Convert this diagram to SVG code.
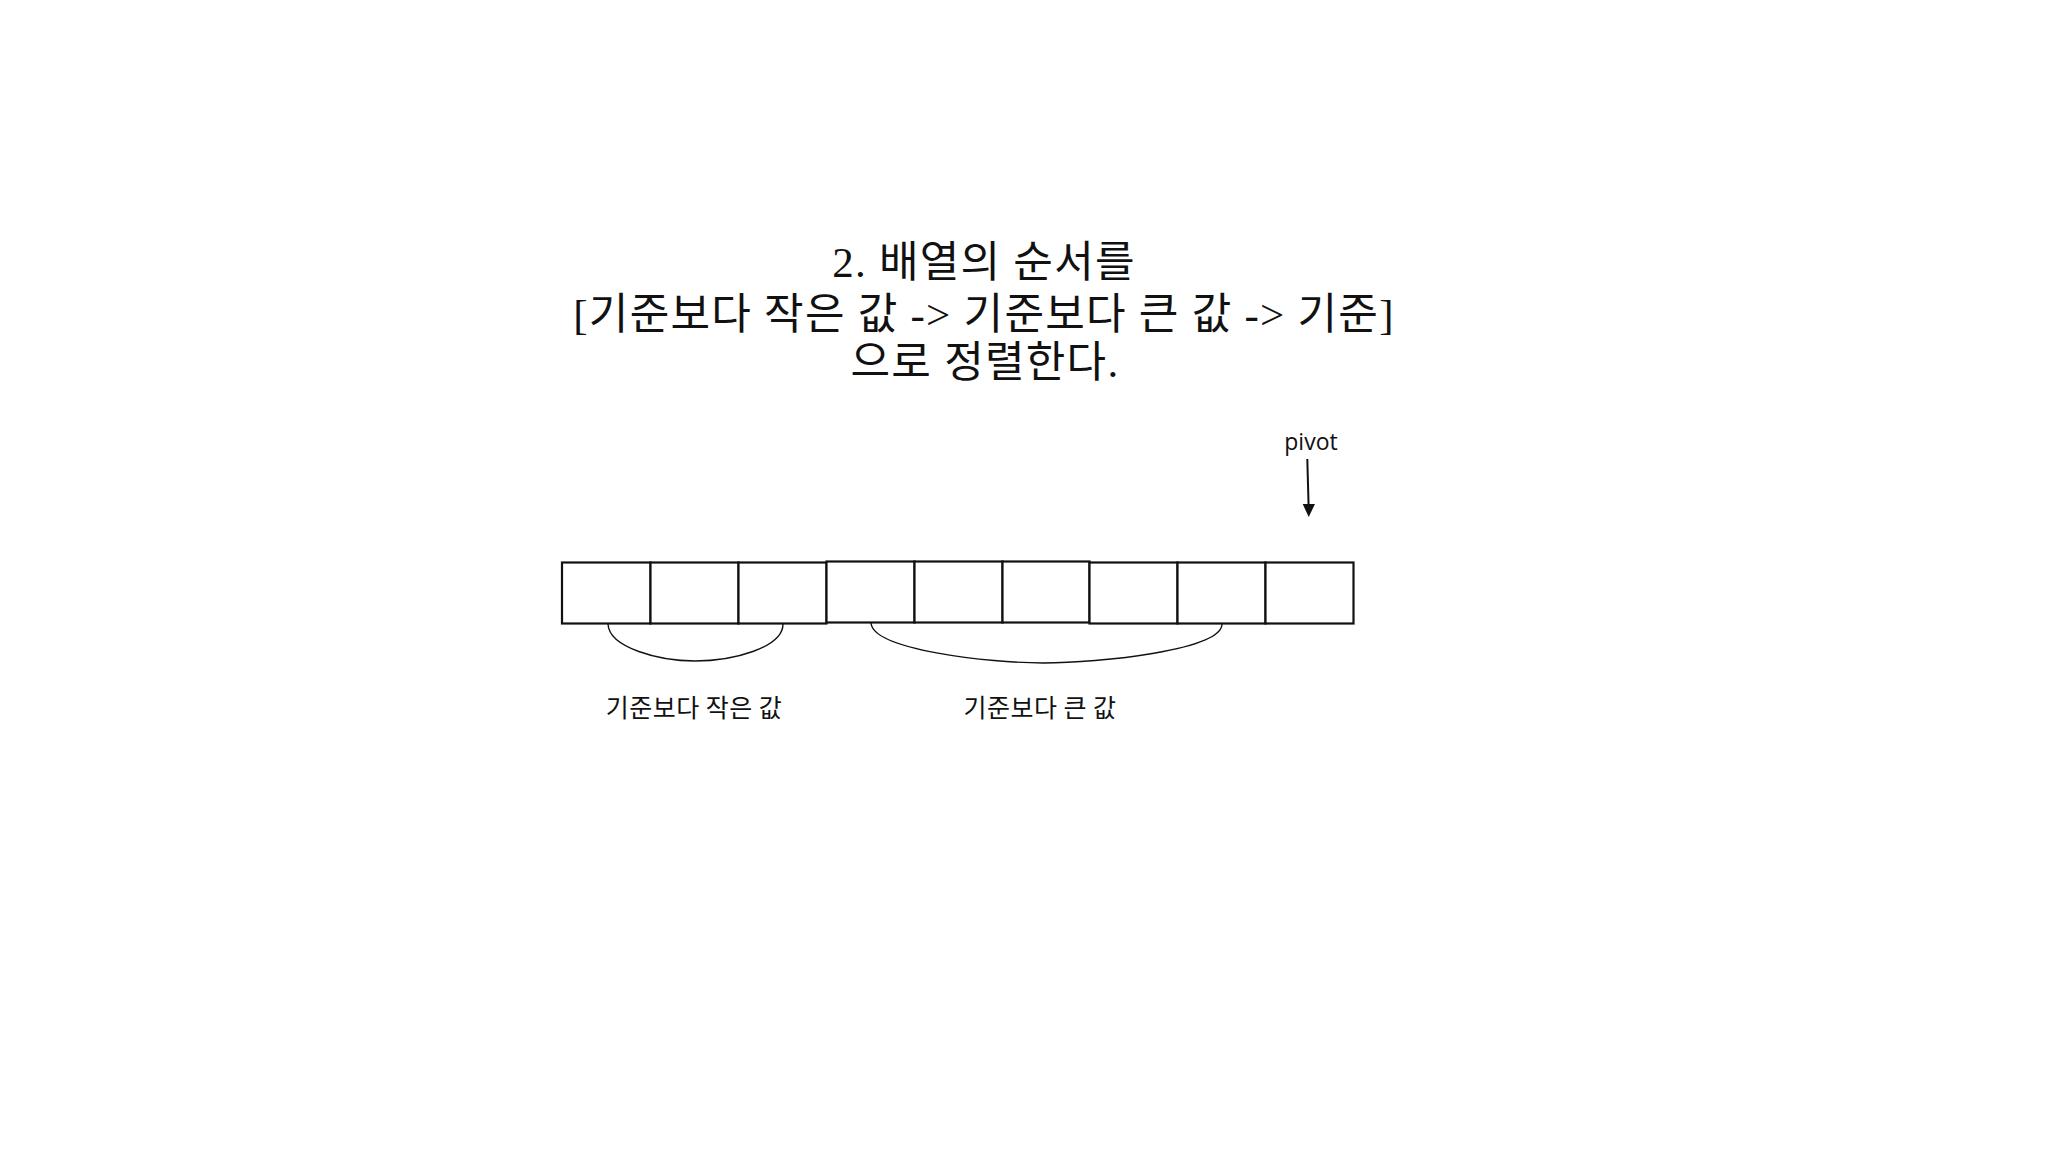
<svg xmlns="http://www.w3.org/2000/svg" width="2048" height="1152" viewBox="0 0 2048 1152">
<style>
.title{font-family:"Liberation Serif","Noto Sans CJK KR",serif;font-size:43px;letter-spacing:1.25px;fill:#111;text-anchor:middle}
.lbl{font-family:"Noto Sans CJK KR",sans-serif;font-size:25px;letter-spacing:0.5px;fill:#111;text-anchor:middle}
.piv{font-family:"Open Sans",sans-serif;font-size:23px;fill:#111;text-anchor:middle}
.cell{fill:#fff;stroke:#111;stroke-width:2.2}
.arc{fill:none;stroke:#111;stroke-width:1.4}
.arr{fill:none;stroke:#111;stroke-width:2}
</style>
<rect width="2048" height="1152" fill="#fff"/>
<g id="title">
<text class="title" x="984" y="277">2. 배열의 순서를</text>
<text class="title" x="984" y="329">[기준보다 작은 값 -&gt; 기준보다 큰 값 -&gt; 기준]</text>
<text class="title" x="985" y="377">으로 정렬한다.</text>
</g>
<g id="array">
<g id="cell1"><rect class="cell" x="562" y="562.5" width="88.5" height="61"/></g>
<g id="cell2"><rect class="cell" x="650.5" y="562.5" width="88" height="61"/></g>
<g id="cell3"><rect class="cell" x="738.5" y="562.5" width="88" height="61"/></g>
<g id="cell4"><rect class="cell" x="826.5" y="561.5" width="88" height="61"/></g>
<g id="cell5"><rect class="cell" x="914.5" y="561.5" width="88" height="61"/></g>
<g id="cell6"><rect class="cell" x="1002.5" y="561.5" width="87" height="61"/></g>
<g id="cell7"><rect class="cell" x="1089.5" y="562.5" width="88" height="61"/></g>
<g id="cell8"><rect class="cell" x="1177.5" y="562.5" width="88" height="61"/></g>
<g id="cell9"><rect class="cell" x="1265.5" y="562.5" width="88" height="61"/></g>
</g>
<g id="pivot"><text class="piv" x="1311" y="450">pivot</text></g>
<g id="label-small"><text class="lbl" x="694" y="717">기준보다 작은 값</text></g>
<g id="label-large"><text class="lbl" x="1040" y="717">기준보다 큰 값</text></g>
<g id="connectors">
<path class="arc" d="M608,624 C609,648 660,661 695,661 C732,661 783,648 783,624"/>
<path class="arc" d="M871,623 C873,650 990,663 1043,663 C1100,663 1222,650 1222,624"/>
<path class="arr" d="M1307.3,459 L1308.6,506"/>
<path d="M1302.7,504 L1315,504 L1308.7,517 Z" fill="#111"/>
</g>
</svg>
